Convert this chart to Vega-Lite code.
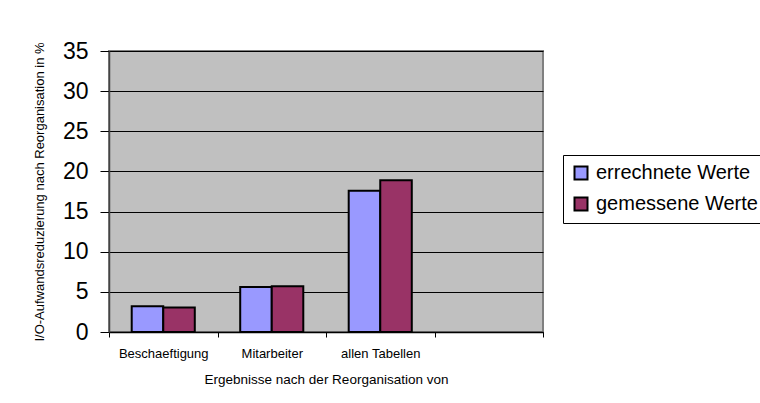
{
  "$schema": "https://vega.github.io/schema/vega-lite/v6.json",
  "autosize": {"type": "none"},
  "width": 434,
  "height": 281,
  "padding": {"left": 109, "top": 51, "right": 217, "bottom": 71},
  "background": "white",
  "data": {
    "values": [
      {"kategorie": "Beschaeftigung", "reihe": "errechnete Werte", "wert": 3.2},
      {"kategorie": "Beschaeftigung", "reihe": "gemessene Werte", "wert": 3.05},
      {"kategorie": "Mitarbeiter", "reihe": "errechnete Werte", "wert": 5.6},
      {"kategorie": "Mitarbeiter", "reihe": "gemessene Werte", "wert": 5.7},
      {"kategorie": "allen Tabellen", "reihe": "errechnete Werte", "wert": 17.6},
      {"kategorie": "allen Tabellen", "reihe": "gemessene Werte", "wert": 18.9}
    ]
  },
  "mark": {"type": "bar", "stroke": "black", "strokeWidth": 2},
  "encoding": {
    "x": {
      "field": "kategorie",
      "type": "nominal",
      "sort": null,
      "scale": {"domain": ["Beschaeftigung", "Mitarbeiter", "allen Tabellen", " "], "paddingInner": 0, "paddingOuter": 0},
      "axis": {
        "title": "Ergebnisse nach der Reorganisation von",
        "labelAngle": 0,
        "labelFont": "Liberation Sans",
        "labelFontSize": 13,
        "labelColor": "black",
        "labelPadding": 10,
        "tickBand": "extent",
        "tickColor": "black",
        "tickSize": 5,
        "domainColor": "black",
        "domainWidth": 1.5,
        "titleFont": "Liberation Sans",
        "titleFontSize": 13.5,
        "titleFontWeight": "normal",
        "titleColor": "black",
        "titlePadding": 12
      }
    },
    "xOffset": {"field": "reihe", "type": "nominal", "scale": {"paddingInner": 0, "paddingOuter": 0.72}},
    "y": {
      "field": "wert",
      "type": "quantitative",
      "scale": {"domain": [0, 35]},
      "axis": {
        "title": "I/O-Aufwandsreduzierung nach Reorganisation in %",
        "values": [0, 5, 10, 15, 20, 25, 30, 35],
        "labelFont": "Liberation Sans",
        "labelFontSize": 23,
        "labelColor": "black",
        "labelPadding": 12,
        "tickSize": 9,
        "tickColor": "black",
        "domainColor": "#444444",
        "domainWidth": 1.5,
        "grid": true,
        "gridColor": "black",
        "gridWidth": 1,
        "titleFont": "Liberation Sans",
        "titleFontSize": 13,
        "titleFontWeight": "normal",
        "titleColor": "black",
        "titlePadding": 16
      }
    },
    "color": {
      "field": "reihe",
      "type": "nominal",
      "scale": {"domain": ["errechnete Werte", "gemessene Werte"], "range": ["#9999FF", "#993366"]},
      "legend": {
        "title": null,
        "orient": "none",
        "legendX": 454,
        "legendY": 104,
        "symbolType": "square",
        "symbolSize": 169,
        "symbolStrokeColor": "black",
        "symbolStrokeWidth": 2,
        "symbolOpacity": 1,
        "labelFont": "Liberation Sans",
        "labelFontSize": 20,
        "labelColor": "black",
        "labelLimit": 300,
        "labelOffset": 5,
        "rowPadding": 9,
        "strokeColor": "black",
        "padding": 8,
        "fillColor": "white"
      }
    }
  },
  "config": {
    "view": {"fill": "#C0C0C0", "stroke": "#808080", "strokeWidth": 2}
  }
}
